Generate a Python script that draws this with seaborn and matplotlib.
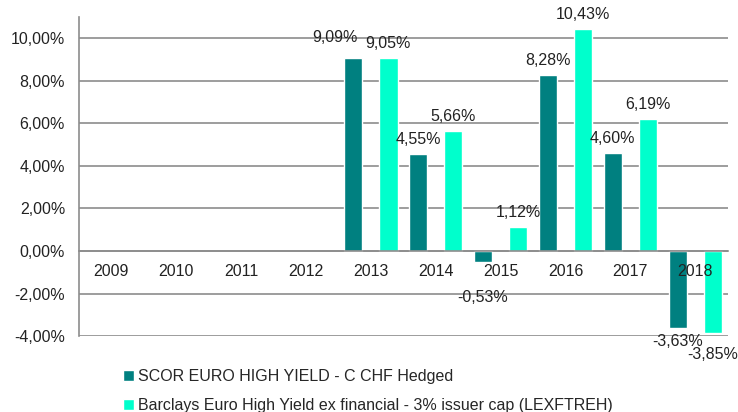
import numpy as np
import pandas as pd
import seaborn as sns
import matplotlib.pyplot as plt
from matplotlib.ticker import FuncFormatter, MultipleLocator, FixedLocator

years = ["2009", "2010", "2011", "2012", "2013", "2014", "2015", "2016", "2017", "2018"]
fund = [np.nan, np.nan, np.nan, np.nan, 9.09, 4.55, -0.53, 8.28, 4.60, -3.63]
bench = [np.nan, np.nan, np.nan, np.nan, 9.05, 5.66, 1.12, 10.43, 6.19, -3.85]
series = ["SCOR EURO HIGH YIELD - C CHF Hedged",
          "Barclays Euro High Yield ex financial - 3% issuer cap (LEXFTREH)"]
colors = ["#008080", "#00FFCC"]

df = pd.DataFrame({
    "year": years * 2,
    "value": fund + bench,
    "series": [series[0]] * len(years) + [series[1]] * len(years),
})

sns.set_style("white")
plt.rcParams["font.family"] = ["Liberation Sans", "DejaVu Sans"]
plt.rcParams["font.size"] = 11.5

fig = plt.figure(figsize=(7.38, 4.12), dpi=100)
ax = fig.add_axes([0.107, 0.184, 0.879, 0.775])

sns.barplot(data=df, x="year", y="value", hue="series", order=years,
            hue_order=series, palette=colors, width=1.08, gap=0.48,
            saturation=1, errorbar=None, ax=ax, legend=True)

ax.set_ylim(-4, 11)
ax.set_xlim(-0.5, len(years) - 0.5)
ax.yaxis.set_major_locator(MultipleLocator(2))
ax.yaxis.set_major_formatter(FuncFormatter(lambda v, p: f"{v:.2f}%".replace(".", ",")))
# gridlines behind the bars, axis (tick labels) in front of them
ax.set_axisbelow(False)
for yv in np.arange(-4, 11, 2):
    ax.axhline(yv, color="#8c8c8c", lw=1.2, zorder=0)
ax.set_xlabel("")
ax.set_ylabel("")

for s in ["top", "right"]:
    ax.spines[s].set_visible(False)
ax.spines["left"].set_color("#8c8c8c")
ax.spines["left"].set_linewidth(1.2)
ax.spines["bottom"].set_position(("data", 0))
ax.spines["bottom"].set_color("#8c8c8c")
ax.spines["bottom"].set_linewidth(1.2)

ax.xaxis.set_minor_locator(FixedLocator(np.arange(-0.5, len(years), 1.0)))
ax.tick_params(axis="x", which="major", length=0, pad=9, labelsize=11.5, colors="#222222")
ax.tick_params(axis="x", which="minor", length=4, width=1.2, color="#8c8c8c", direction="out")
ax.tick_params(axis="y", which="major", length=4, width=1.2, color="#8c8c8c", pad=6,
               labelsize=11.5, labelcolor="#222222")

# value labels (keyed by series index and year index)
special = {(0, 4): (-13, 4), (0, 6): (0, -16), (1, 9): (0, -6)}
for si, cont in enumerate(ax.containers):
    for bar in cont:
        h = bar.get_height()
        if np.isnan(h):
            continue
        cx = bar.get_x() + bar.get_width() / 2
        yi = int(round(cx))
        dx, dy = special.get((si, yi), (0, 0))
        base = 5 if h >= 0 else -4
        ax.annotate(f"{h:.2f}%".replace(".", ","), (cx, h),
                    xytext=(dx, base + dy), textcoords="offset points",
                    ha="center", va="bottom" if h >= 0 else "top",
                    fontsize=11.5, color="#222222")

handles, labels = ax.get_legend_handles_labels()
ax.get_legend().remove()
fig.legend(handles, labels, loc="upper left", bbox_to_anchor=(0.166, 0.105),
           frameon=False, ncol=1, handlelength=0.7, handleheight=0.7,
           handletextpad=0.3, labelspacing=0.9, borderaxespad=0, borderpad=0,
           fontsize=11.5)

fig.savefig("out.png", dpi=100)
